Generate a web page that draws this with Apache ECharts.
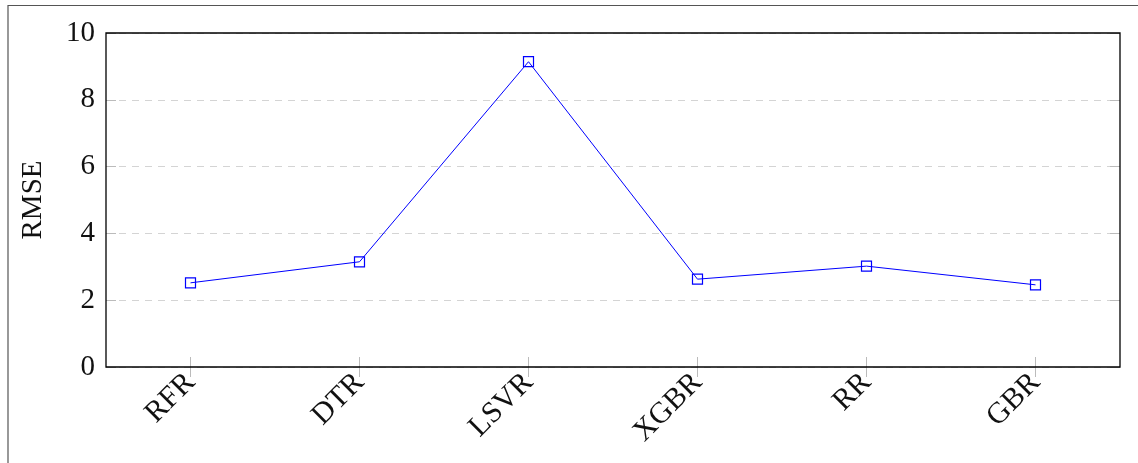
<!DOCTYPE html>
<html>
<head>
<meta charset="utf-8">
<script src="https://cdn.jsdelivr.net/npm/echarts@6/dist/echarts.min.js"></script>
<style>
html,body{margin:0;padding:0;background:#fff;}
#chart{width:1138px;height:463px;}
</style>
</head>
<body>
<div id="chart"></div>
<script>
var categories = ['RFR', 'DTR', 'LSVR', 'XGBR', 'RR', 'GBR'];
var rmseValues = [2.52, 3.15, 9.14, 2.63, 3.02, 2.46];
var yAxisName = 'RMSE';

var FONT = '"Liberation Serif", "DejaVu Serif", serif';
var chart = echarts.init(document.getElementById('chart'), null, {renderer: 'canvas'});
var tick = {show: true, inside: true, length: 10, lineStyle: {color: '#bbb', width: 1}};
var option = {
  backgroundColor: '#fff',
  animation: false,
  graphic: [{
    type: 'rect',
    shape: {x: 8, y: 5.5, width: 1200, height: 600},
    style: {fill: 'none', stroke: '#555', lineWidth: 1.2},
    silent: true, z: -10
  }],
  grid: {
    left: 106, right: 18, top: 33, bottom: 96,
    show: true, borderColor: '#000', borderWidth: 1.3, backgroundColor: 'transparent', z: 10
  },
  xAxis: [{
    type: 'category',
    data: categories,
    boundaryGap: true,
    position: 'bottom',
    axisLine: {show: false},
    axisTick: Object.assign({alignWithLabel: true}, tick),
    axisLabel: {rotate: 45, margin: 11, fontFamily: FONT, fontSize: 30, color: '#111'},
    splitLine: {show: false}
  }, {
    type: 'category',
    data: categories,
    boundaryGap: true,
    position: 'top',
    axisLine: {show: false},
    axisTick: Object.assign({alignWithLabel: true}, tick),
    axisLabel: {show: false},
    splitLine: {show: false}
  }],
  yAxis: [{
    type: 'value',
    min: 0, max: 10, interval: 2,
    name: yAxisName,
    nameLocation: 'middle',
    nameGap: 58,
    nameTextStyle: {fontFamily: FONT, fontSize: 29, color: '#111'},
    axisLine: {show: false},
    axisTick: tick,
    axisLabel: {margin: 11, fontFamily: FONT, fontSize: 29, color: '#111'},
    splitLine: {show: true, lineStyle: {color: '#d4d4d4', type: [7, 6], width: 1.2}}
  }, {
    type: 'value',
    min: 0, max: 10, interval: 2,
    position: 'right',
    axisLine: {show: false},
    axisTick: tick,
    axisLabel: {show: false},
    splitLine: {show: false}
  }],
  series: [{
    type: 'line',
    data: rmseValues,
    xAxisIndex: 0,
    yAxisIndex: 0,
    symbol: 'rect',
    symbolSize: 10,
    lineStyle: {color: '#0000ff', width: 1},
    itemStyle: {color: 'rgba(0,0,0,0)', borderColor: '#0000ff', borderWidth: 1.2},
    emphasis: {disabled: true},
    z: 5
  }]
};
chart.setOption(option);
</script>
</body>
</html>
